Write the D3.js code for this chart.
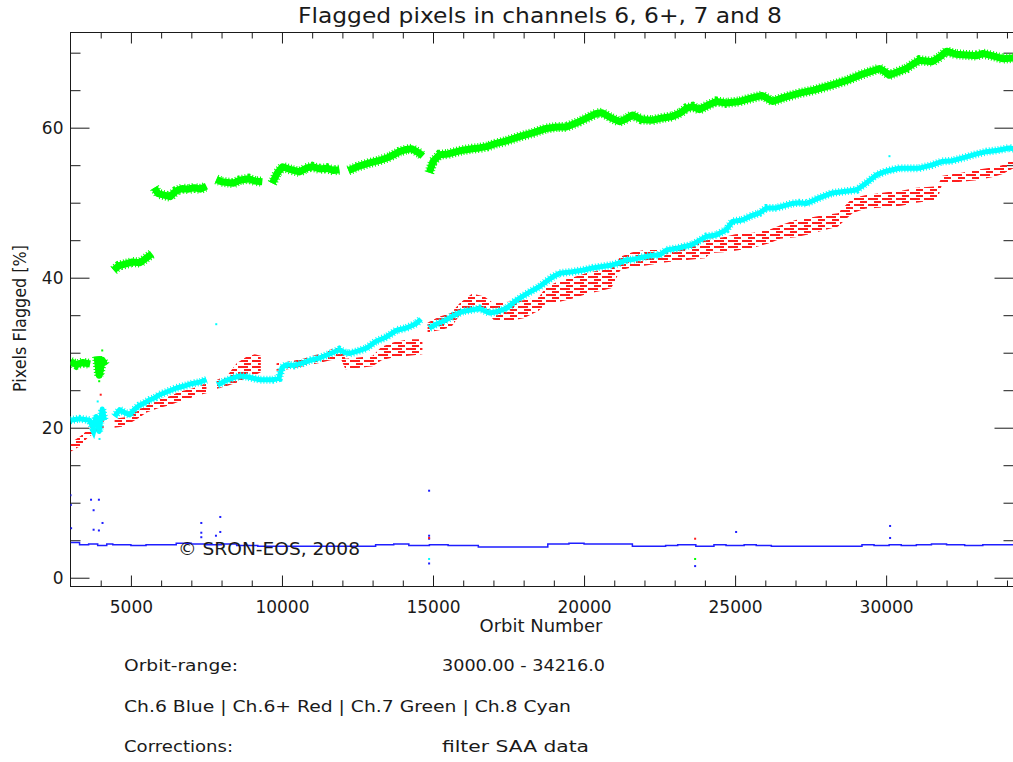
<!DOCTYPE html>
<html>
<head>
<meta charset="utf-8">
<script src="https://cdn.jsdelivr.net/npm/d3@7"></script>
<style>
  body { margin: 0; background: #ffffff; }
  text { font-family: "DejaVu Sans", sans-serif; fill: #1a1a1a; }
</style>
</head>
<body>
<script>
'use strict';

(function() {

  // Ch.7 (green) samples, null breaks the trace
  const greenOrbit = [3000, 3200, 3400, 3650, 3750, 3880, 3950, 4050, 4150, 4300,
    4430, 4600, 4800, 5050, 5300, 5500, 5700, 5740,
    5780, 5900, 6100, 6300, 6500, 6700, 6900, 7100, 7300, 7500, 7650,
    7830, 8000, 8200, 8400, 8600, 8900, 9100, 9350, 9500,
    9680, 9850, 10020, 10300, 10580, 10800, 11000, 11250, 11480, 11700, 11900, 12050,
    12200, 12500, 12900, 13200, 13560, 13890, 14120, 14300, 14550, 14660, 14770,
    14880, 15000, 15220, 15500, 15980, 16300, 16540, 16800, 17090, 17400,
    17860, 18300, 18750, 19100, 19410, 19840, 20100, 20410, 20600, 20900,
    21170, 21400, 21600, 21900, 22260, 22600, 22920, 23200, 23390, 23600,
    23815, 24100, 24380, 24700, 25150, 25500, 25900, 26240, 26600, 27130,
    27600, 28220, 28700, 29120, 29500, 29780, 29950, 30100, 30350, 30670,
    30900, 31100, 31530, 31800, 32000, 32300, 32660, 33000, 33190, 33500,
    33850, 34216];
  const greenPct = [28.8, 28.4, 28.7, 28.5, null, 29.5, 27.0, 29.0, 28.3, null,
    41.0, 41.6, 41.8, 42.1, 42.0, 42.6, 43.2, null,
    52.0, 51.2, 51.0, 50.8, 51.6, 51.9, 51.8, 52.0, 51.8, 52.2, null,
    53.1, 52.8, 52.7, 52.6, 53.0, 53.2, 52.9, 52.8, null,
    52.6, 54.0, 54.8, 54.4, 54.1, 54.6, 54.8, 54.5, 54.6, 54.3, 54.4, null,
    54.3, 54.8, 55.3, 55.6, 56.1, 56.8, 57.1, 57.2, 56.6, 56.2, null,
    54.0, 55.5, 56.4, 56.5, 57.0, 57.2, 57.3, 57.5, 57.9, 58.2,
    58.8, 59.3, 59.9, 60.1, 60.1, 60.8, 61.3, 61.9, 62.0, 61.3,
    60.8, 61.2, 61.7, 61.1, 61.0, 61.3, 61.5, 62.0, 62.6, 62.8,
    62.4, 63.0, 63.5, 63.3, 63.5, 63.9, 64.3, 63.5, 64.0, 64.6,
    65.0, 65.7, 66.3, 67.0, 67.5, 67.9, 67.5, 67.0, 67.4, 67.9,
    68.5, 69.0, 68.8, 69.5, 70.2, 69.8, 69.7, 69.6, 69.9, 69.6,
    69.2, 69.3];

  // Ch.8 (cyan)
  const cyanOrbit = [3000, 3300, 3630, 3750, 3850, 3950, 4050, 4130, 4300,
    4460, 4625, 4800, 4960, 5100, 5290, 5450, 5620, 5800, 5950,
    6200, 6510, 6800, 7040, 7300, 7500, 7700,
    7870, 8100, 8365, 8600, 8830, 9050, 9260, 9500, 9690, 9900,
    10000, 10150, 10400, 10680, 10950, 11240, 11550, 11900, 12100, 12240,
    12500, 12800, 13100, 13460, 13800, 14120, 14450, 14600, 14750,
    14880, 15100, 15450, 15700, 15980, 16250, 16540, 16870, 17150, 17430,
    17700, 17960, 18250, 18520, 18750, 18960, 19190, 19620, 19950, 20280,
    20600, 20940, 21200, 21400, 21600, 21900, 22270, 22490, 22730, 23050,
    23580, 24050, 24380, 24710, 24910, 25240, 25500, 25800, 26040, 26370,
    26900, 27130, 27360, 27700, 28220, 28600, 29020, 29300, 29680, 30000,
    30440, 30800, 31100, 31500, 31860, 32200, 32660, 33000, 33320, 33700,
    34080, 34216];
  const cyanPct = [21.0, 21.2, 21.0, 20.0, 21.5, 19.5, 22.5, 21.0, null,
    21.5, 22.4, 22.0, 21.7, 22.4, 23.0, 23.3, 23.7, 24.0, 24.4,
    24.8, 25.3, 25.6, 25.9, 26.1, 26.4, null,
    25.7, 26.2, 26.6, 26.9, 26.8, 26.6, 26.4, 26.4, 26.4, 26.6,
    28.0, 28.4, 28.3, 28.6, 29.0, 29.3, 29.8, 30.4, 30.0, 29.9,
    30.2, 30.6, 31.5, 32.1, 33.0, 33.3, 33.9, 34.5, null,
    33.3, 33.8, 34.4, 35.0, 35.5, 35.7, 35.9, 35.3, 35.5, 35.9,
    36.8, 37.5, 38.2, 38.8, 39.5, 40.1, 40.6, 40.8, 41.0, 41.3,
    41.5, 41.7, 42.0, 42.4, 42.4, 42.7, 43.0, 43.0, 43.7, 43.9,
    44.4, 45.5, 45.7, 46.4, 47.5, 47.7, 48.2, 48.6, 49.3, 49.3,
    49.9, 50.0, 49.9, 50.5, 51.3, 51.5, 51.7, 52.5, 53.7, 54.2,
    54.6, 54.6, 54.6, 55.0, 55.5, 55.6, 56.1, 56.5, 56.8, 57.0,
    57.3, 57.2];

  // Ch.6+ (red) spreads over a band, kept as lower and upper edge
  const redOrbit = [3000, 3300, 3600, 3900, 4100, 4250,
    4460, 4800, 5050, 5300, 5500, 5900, 6280, 6600, 7000, 7300, 7500, 7650,
    7850, 8200, 8500, 8800, 9100, 9300, 9550,
    9820, 10200, 10700, 11200, 11600, 11950, 12100, 12600, 13000, 13300,
    13700, 14200, 14650, 14750,
    14820, 15200, 15600, 15880, 16300, 16700, 17000, 17500, 18000, 18500,
    18750, 19200, 19600, 20060, 20500, 20900, 21200, 21600, 22000, 22600,
    23000, 23500, 24000, 24200, 24600, 25000, 25600, 26130, 26500, 27000,
    27460, 28000, 28400, 28880, 29300, 30000, 30500, 31000, 31700, 31860,
    32500, 33000, 33500, 33840, 34216];
  const redLow = [16.8, 17.5, 18.8, 19.5, 20.0, null,
    20.0, 20.2, 20.8, 21.4, 22.0, 22.6, 23.0, 23.5, 24.0, 24.4, 24.6, null,
    25.2, 25.6, 26.0, 26.6, 27.0, 27.4, null,
    27.6, 27.8, 28.2, 28.6, 29.0, 29.2, 27.8, 28.0, 28.2, 29.0,
    29.4, 29.6, 29.8, null,
    32.7, 33.0, 33.4, 35.0, 35.9, 35.9, 34.4, 34.2, 34.6, 35.6,
    36.6, 36.8, 37.2, 37.8, 38.2, 38.6, 41.0, 41.4, 41.6, 42.0,
    42.2, 42.4, 42.6, 43.3, 43.4, 43.6, 44.0, 44.6, 45.2, 45.4,
    45.8, 46.4, 46.8, 48.6, 49.2, 49.4, 49.6, 50.0, 50.4, 52.6,
    52.8, 53.0, 53.4, 53.8, 54.6];
  const redHigh = [18.0, 18.8, 19.8, 21.0, 21.5, null,
    21.2, 21.4, 22.0, 22.5, 23.5, 23.8, 24.2, 24.8, 25.2, 25.6, 26.0, null,
    26.4, 27.0, 28.6, 29.4, 29.8, 29.6, null,
    28.6, 28.8, 29.2, 29.8, 30.4, 31.0, 29.2, 29.4, 29.6, 30.8,
    31.4, 31.8, 31.8, null,
    34.0, 34.8, 35.3, 36.6, 37.9, 37.5, 36.6, 36.8, 37.0, 37.4,
    38.8, 39.6, 40.0, 40.6, 41.0, 41.2, 42.8, 43.4, 43.7, 43.7,
    44.2, 44.6, 45.0, 45.2, 45.4, 45.8, 46.0, 46.4, 47.0, 47.7,
    48.0, 48.4, 48.6, 50.6, 51.0, 51.4, 51.6, 52.0, 52.2, 53.6,
    54.0, 54.4, 54.7, 55.0, 55.9];

  // Ch.6 (blue), a nearly flat stepped trace
  const blueOrbit = [3000, 3300, 3600, 3900, 4200, 4400, 5000, 5500, 6000, 6500,
    7000, 7500, 8000, 8500, 9200, 13100, 13700, 14200, 14880, 15500,
    16500, 18800, 19500, 20000, 20700, 21600, 22700, 23100, 23700, 24300,
    24700, 25300, 25700, 26200, 29200, 29600, 30100, 30500, 31000, 31500,
    32000, 32600, 33200, 34216];
  const bluePct = [4.7, 4.4, 4.5, 4.3, 4.5, 4.4, 4.3, 4.4, 4.4, 4.6,
    4.5, 4.4, 4.5, 4.3, 4.2, 4.4, 4.5, 4.3, 4.4, 4.3,
    4.1, 4.5, 4.6, 4.5, 4.5, 4.2, 4.3, 4.4, 4.2, 4.4,
    4.3, 4.4, 4.3, 4.2, 4.4, 4.3, 4.4, 4.3, 4.4, 4.5,
    4.4, 4.3, 4.4, 4.5];

  // stray single measurements
  const strayOrbit = [3000, 3010, 3020, 3680, 3940, 3765, 3765, 3940, 4060, 7330,
    7330, 7330, 7958, 7958, 7815, 14871, 14871, 14871, 14871, 23677,
    25034, 30131, 30131, 7825, 14871, 30110, 3900, 3960, 23677, 3950,
    4050, 23677, 14871, 4000];
  const strayPct = [11.0, 9.7, 6.6, 10.4, 10.4, 9.0, 6.4, 6.3, 7.3, 7.3,
    6.0, 5.4, 8.1, 6.1, 5.6, 11.6, 5.6, 5.2, 1.9, 1.55,
    6.1, 6.9, 5.3, 33.8, 2.5, 56.2, 23.5, 18.5, 2.5, 26.2,
    30.3, 5.2, 5.3, 24.4];
  const strayChannel = ["ch6", "ch6", "ch6", "ch6", "ch6", "ch6", "ch6", "ch6", "ch6", "ch6",
    "ch6", "ch6", "ch6", "ch6", "ch6", "ch6", "ch6", "ch6", "ch6", "ch6",
    "ch6", "ch6", "ch6", "ch8", "ch8", "ch8", "ch8", "ch8", "ch7", "ch7",
    "ch7", "ch6+", "ch6+", "ch6+"];

  const orbitRange = [3000, 34216];
  const xTickLabels = [5000, 10000, 15000, 20000, 25000, 30000];
  const yTickLabels = [0, 20, 40, 60];
  const infoLeft = ["Orbit-range:", "Ch.6 Blue | Ch.6+ Red | Ch.7 Green | Ch.8 Cyan", "Corrections:"];
  const infoRight = ["3000.00 - 34216.0", "", "filter SAA data"];

  let svgContainer = ""; // keep SVG reference in global scope
  let colors = {
    "ch6": "#1e1eff",
    "ch6+": "#ff1e1e",
    "ch7": "#00ff00",
    "ch8": "#00ffff"
  };

  window.onload = function() {
    svgContainer = d3.select('body')
      .append('svg')
      .attr('width', 1013)
      .attr('height', 762);

    let map = drawAxes();
    plotData(map);
    makeLabels();
  };

  // plot the four channels
  function plotData(map) {
    let x = map.xScale;
    let y = map.yScale;

    let defs = svgContainer.append('defs');
    let clip = defs.append('clipPath').attr('id', 'plotClip');
    clip.append('rect')
      .attr('x', 70.5).attr('y', 32.5)
      .attr('width', 943).attr('height', 554);

    // red band is made of short horizontal dashes
    let pat = defs.append('pattern')
      .attr('id', 'redDash')
      .attr('patternUnits', 'userSpaceOnUse')
      .attr('width', 14)
      .attr('height', 6);
    pat.append('rect').attr('x', 0).attr('y', 0).attr('width', 10).attr('height', 2).attr('fill', colors["ch6+"]);
    pat.append('rect').attr('x', 6).attr('y', 3).attr('width', 7).attr('height', 2).attr('fill', colors["ch6+"]);

    let plot = svgContainer.append('g').attr('clip-path', 'url(#plotClip)');

    let redRows = d3.zip(redOrbit, redLow, redHigh);
    let band = d3.area()
      .defined(d => d[1] != null)
      .x(d => x(d[0]))
      .y0(d => y(d[1]))
      .y1(d => y(d[2]));
    plot.append('path')
      .attr('d', band(redRows))
      .attr('fill', 'url(#redDash)');

    let line = d3.line()
      .defined(d => d[1] != null)
      .x(d => x(d[0]))
      .y(d => y(d[1]));

    // noisy traces: dotted fringe plus solid core
    let traces = [
      { rows: d3.zip(greenOrbit, greenPct), color: colors["ch7"], fringe: 10, core: 7 },
      { rows: d3.zip(cyanOrbit, cyanPct), color: colors["ch8"], fringe: 8, core: 5 }
    ];
    traces.forEach(function(t) {
      plot.append('path')
        .attr('d', line(t.rows))
        .attr('fill', 'none')
        .attr('stroke', t.color)
        .attr('stroke-width', t.fringe)
        .attr('stroke-dasharray', '1,2');
      plot.append('path')
        .attr('d', line(t.rows))
        .attr('fill', 'none')
        .attr('stroke', t.color)
        .attr('stroke-width', t.core)
        .attr('stroke-linejoin', 'round');
    });

    let stepLine = d3.line()
      .curve(d3.curveStepAfter)
      .x(d => x(d[0]))
      .y(d => y(d[1]));
    plot.append('path')
      .attr('d', stepLine(d3.zip(blueOrbit, bluePct)))
      .attr('fill', 'none')
      .attr('stroke', colors["ch6"])
      .attr('stroke-width', 1.5);

    plot.selectAll('.stray')
      .data(d3.zip(strayOrbit, strayPct, strayChannel))
      .enter()
      .append('rect')
        .attr('class', 'stray')
        .attr('x', d => x(d[0]) - 1)
        .attr('y', d => y(d[1]) - 1)
        .attr('width', 2)
        .attr('height', 2)
        .attr('fill', d => colors[d[2]]);
  }

  // draw the frame, ticks and tick labels
  function drawAxes() {
    let xScale = d3.scaleLinear()
      .domain(orbitRange)
      .range([70.5, 1013.5]);

    let yScale = d3.scaleLinear()
      .domain([-1.17, 72.69])
      .range([586.5, 32.5]);

    let xMinor = d3.range(4000, 34001, 1000).filter(v => v % 5000 != 0);
    let yMinor = d3.range(5, 71, 5).filter(v => v % 20 != 0);

    function tidy(g) {
      g.select('.domain').remove();
      g.attr('font-size', 17)
        .attr('font-family', '"DejaVu Sans", sans-serif')
        .attr('color', '#1a1a1a');
    }

    // bottom axis with labels
    svgContainer.append('g')
      .attr('transform', 'translate(0, 586.5)')
      .call(d3.axisBottom(xScale).tickValues(xTickLabels).tickSize(-11).tickPadding(14).tickFormat(d3.format('d')))
      .call(tidy);
    svgContainer.append('g')
      .attr('transform', 'translate(0, 586.5)')
      .call(d3.axisBottom(xScale).tickValues(xMinor).tickSize(-6).tickFormat(''))
      .call(tidy);

    // top axis, ticks only
    svgContainer.append('g')
      .attr('transform', 'translate(0, 32.5)')
      .call(d3.axisTop(xScale).tickValues(xTickLabels).tickSize(-11).tickFormat(''))
      .call(tidy);
    svgContainer.append('g')
      .attr('transform', 'translate(0, 32.5)')
      .call(d3.axisTop(xScale).tickValues(xMinor).tickSize(-6).tickFormat(''))
      .call(tidy);

    // left axis with labels
    svgContainer.append('g')
      .attr('transform', 'translate(70.5, 0)')
      .call(d3.axisLeft(yScale).tickValues(yTickLabels).tickSize(-19).tickPadding(7))
      .call(tidy);
    svgContainer.append('g')
      .attr('transform', 'translate(70.5, 0)')
      .call(d3.axisLeft(yScale).tickValues(yMinor).tickSize(-10).tickFormat(''))
      .call(tidy);

    // right axis, ticks only
    svgContainer.append('g')
      .attr('transform', 'translate(1013.5, 0)')
      .call(d3.axisRight(yScale).tickValues(yTickLabels).tickSize(-19).tickFormat(''))
      .call(tidy);
    svgContainer.append('g')
      .attr('transform', 'translate(1013.5, 0)')
      .call(d3.axisRight(yScale).tickValues(yMinor).tickSize(-10).tickFormat(''))
      .call(tidy);

    svgContainer.append('rect')
      .attr('x', 70.5)
      .attr('y', 32.5)
      .attr('width', 943)
      .attr('height', 554)
      .attr('fill', 'none')
      .attr('stroke', '#1a1a1a')
      .attr('stroke-width', 1);

    return {
      xScale: xScale,
      yScale: yScale
    };
  }

  // title, axis titles and the info block under the plot
  function makeLabels() {
    svgContainer.append('text')
      .attr('x', 540)
      .attr('y', 23)
      .attr('text-anchor', 'middle')
      .attr('textLength', 484)
      .attr('lengthAdjust', 'spacingAndGlyphs')
      .style('font-size', '21px')
      .text("Flagged pixels in channels 6, 6+, 7 and 8");

    svgContainer.append('text')
      .attr('x', 541)
      .attr('y', 632)
      .attr('text-anchor', 'middle')
      .attr('textLength', 123)
      .attr('lengthAdjust', 'spacingAndGlyphs')
      .style('font-size', '17px')
      .text('Orbit Number');

    svgContainer.append('text')
      .attr('transform', 'translate(26, 318.5)rotate(-90)')
      .attr('text-anchor', 'middle')
      .attr('textLength', 147)
      .attr('lengthAdjust', 'spacingAndGlyphs')
      .style('font-size', '17px')
      .text('Pixels Flagged [%]');

    svgContainer.append('text')
      .attr('x', 178)
      .attr('y', 555)
      .attr('textLength', 182)
      .attr('lengthAdjust', 'spacingAndGlyphs')
      .style('font-size', '18px')
      .text('\u00a9 SRON-EOS, 2008');

    let rowY = [671, 712, 752];
    let leftLen = [114, 447, 109];
    let rightLen = [163, 0, 147];

    infoLeft.forEach(function(t, i) {
      svgContainer.append('text')
        .attr('x', 124)
        .attr('y', rowY[i])
        .attr('textLength', leftLen[i])
        .attr('lengthAdjust', 'spacingAndGlyphs')
        .style('font-size', '16px')
        .text(t);
    });
    infoRight.forEach(function(t, i) {
      if (t == "") return;
      svgContainer.append('text')
        .attr('x', 442)
        .attr('y', rowY[i])
        .attr('textLength', rightLen[i])
        .attr('lengthAdjust', 'spacingAndGlyphs')
        .style('font-size', '16px')
        .text(t);
    });
  }

})();
</script>
</body>
</html>
